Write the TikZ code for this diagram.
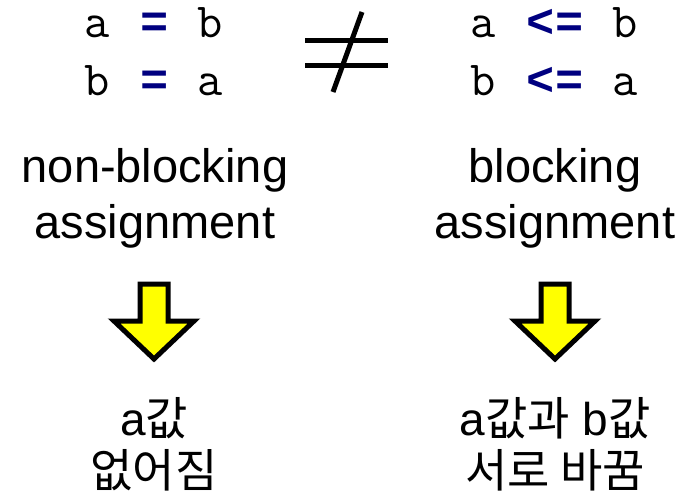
\documentclass[tikz,border=0pt]{standalone}
\usepackage{fontspec}
\setmainfont{Liberation Sans}
\newfontfamily\opfont{Liberation Mono}
\newfontfamily\hangul{Noto Sans CJK KR}
\usepackage{tikz}
\usetikzlibrary{arrows}

\definecolor{opnavy}{RGB}{0,0,128}
\definecolor{arrowyellow}{RGB}{255,255,0}

\tikzset{
  code/.style={font=\fontsize{49}{49}\selectfont\ttfamily, inner sep=0pt, anchor=base},
  op/.style={code, font=\fontsize{47}{47}\selectfont\opfont\bfseries, text=opnavy},
  modetext/.style={font=\fontsize{47}{56}\selectfont, inner sep=0pt, anchor=base},
  result/.style={font=\fontsize{46}{52}\selectfont, inner sep=0pt, anchor=base},
  downarrow/.style={draw=black, line width=5pt, fill=arrowyellow, line join=miter}
}

\begin{document}
\begin{tikzpicture}[x=1pt,y=-1pt]
\useasboundingbox (0,0) rectangle (690,498);
\begin{scope}[shift={(154,0)}]
    \node[code] (la1) at (-57,37) {a};
    \node[op]   (lop1) at (1,37) {=};
    \node[code] (lb1) at (56,37) {b};
    %
    \node[code] (lb2) at (-57,95) {b};
    \node[op]   (lop2) at (1,95) {=};
    \node[code] (la2) at (56,95) {a};
    %
    \node[modetext] (lname1) at (1,182) {non-blocking};
    \node[modetext] (lname2) at (1,238) {assignment};
    \draw[downarrow] (-14,284) -- (14,284) -- (14,321) -- (40,321) -- (0,359) -- (-40,321) -- (-14,321) -- cycle;
    %\node at (0,320) {};
    \node[result] (lres1) at (0,435) {a{\hangul 값}};
    \node[result] (lres2) at (0,487) {\hangul 없어짐};
\end{scope}
%%%%%%%%%%%%%%%%%%%%%%%%%%%%%%%%%%%%%
\begin{scope}[line width=5pt]
    \draw (305,40) -- (388,40);
    \draw (305,65) -- (388,65);
    \draw (362,12) -- (333,92);
\end{scope}
%%%%%%%%%%%%%%%%%%%%%%%%%%%%%%%%%%%%%
\begin{scope}[shift={(555,0)}]
    \node[code] (ra1) at (-72,37) {a};
    \node[op]   (rop1) at (0,37) {<=};
    \node[code] (rb1) at (70,37) {b};
    %
    \node[code] (rb2) at (-72,95) {b};
    \node[op]   (rop2) at (0,95) {<=};
    \node[code] (ra2) at (70,95) {a};
    %
    \node[modetext] (rname1) at (0,182) {blocking};
    \node[modetext] (rname2) at (0,238) {assignment};
    \draw[downarrow] (-14,284) -- (14,284) -- (14,321) -- (40,321) -- (0,359) -- (-40,321) -- (-14,321) -- cycle;
    \node[result] (rres1) at (0,435) {a{\hangul 값과} b{\hangul 값}};
    \node[result] (rres2) at (0,487) {\hangul 서로 바꿈};
\end{scope}
\end{tikzpicture}
\end{document}
